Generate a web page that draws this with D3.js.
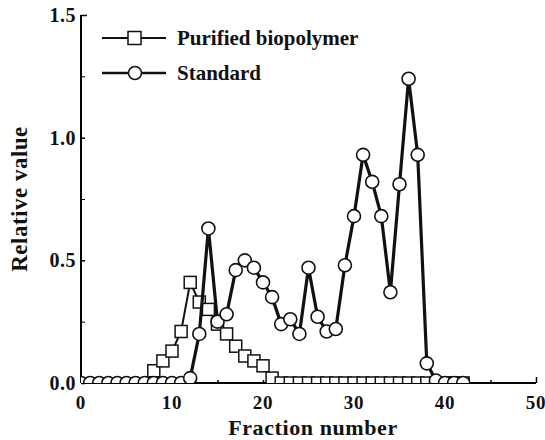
<!DOCTYPE html>
<html>
<head>
<meta charset="utf-8">
<script src="https://cdn.jsdelivr.net/npm/d3@7"></script>
<style>
  body { margin: 0; background: #fff; }
  svg { display: block; }
  text { font-family: "Liberation Serif", "DejaVu Serif", serif; font-weight: bold; fill: #111; }
</style>
</head>
<body>
<svg></svg>
<script>
/**
 * Data.
 */
const fractions = d3.range(0, 43);
const standard = [
    0, 0, 0, 0, 0, 0, 0, 0, 0, 0, 0, 0,
    0.02, 0.20, 0.63, 0.25, 0.28, 0.46, 0.50, 0.47, 0.41, 0.35,
    0.24, 0.26, 0.20, 0.47, 0.27, 0.21, 0.22, 0.48, 0.68, 0.93,
    0.82, 0.68, 0.37, 0.81, 1.24, 0.93, 0.08, 0.01, 0, 0, 0
];
const purified = [
    null, null, null, null, null, null, null, null,
    0.05, 0.09, 0.13, 0.21, 0.41, 0.33, 0.30, 0.24, 0.20, 0.15,
    0.11, 0.09, 0.07, 0.02, 0, 0, 0, 0, 0, 0, 0, 0, 0, 0,
    0, 0, 0, 0, 0, 0, 0, 0, 0, 0, 0
];
const xTicks = [0, 10, 20, 30, 40, 50];
const yTicks = [0, 0.5, 1.0, 1.5];
const seriesNames = ['Purified biopolymer', 'Standard'];

/**
 * Set stuff up.
 */
const width = 545, height = 440;
const svg = d3.select('svg').attr('width', width).attr('height', height);

const x = d3.scaleLinear().domain([0, 50]).range([81, 536]);
const y = d3.scaleLinear().domain([0, 1.5]).range([383, 15]);

svg.append('clipPath').attr('id', 'plot')
    .append('rect')
    .attr('x', x(0)).attr('y', 0)
    .attr('width', x(50) - x(0) + 10).attr('height', y(0));

/**
 * Axes - ticks point inward.
 */
const yAxis = svg.append('g')
    .attr('transform', `translate(${x(0)},0)`)
    .call(d3.axisLeft(y).tickValues(d3.range(0, 1.51, 0.25)).tickSize(-4).tickFormat(''));
yAxis.selectAll('.tick line').attr('stroke-width', d => (d % 0.5 === 0 ? 1.5 : 1))
    .attr('x2', d => (d === 1.5 ? 6 : 4));
yAxis.select('.domain').attr('stroke-width', 2).attr('d', `M0,${y(1.5)}V${y(0)}`);

const xAxis = svg.append('g')
    .attr('transform', `translate(0,${y(0)})`)
    .call(d3.axisBottom(x).tickValues(d3.range(0, 51, 5)).tickSize(-3).tickFormat(''));
xAxis.select('.domain').attr('stroke-width', 2).attr('d', `M${x(0)},0H${x(50)}`);
xAxis.selectAll('.tick line').attr('y2', d => (d === 50 ? -6 : -3)).attr('stroke-width', 1.5);

svg.append('g').selectAll('text')
    .data(yTicks)
    .join('text')
    .attr('x', 76)
    .attr('y', d => y(d) + 7)
    .attr('text-anchor', 'end')
    .attr('font-size', 20)
    .attr('letter-spacing', 0.5)
    .text(d => d.toFixed(1));

svg.append('g').selectAll('text')
    .data(xTicks)
    .join('text')
    .attr('x', d => x(d))
    .attr('y', 409)
    .attr('text-anchor', 'middle')
    .attr('font-size', 19)
    .attr('letter-spacing', 0.8)
    .text(d => d);

svg.append('text')
    .attr('x', 313)
    .attr('y', 435)
    .attr('text-anchor', 'middle')
    .attr('font-size', 22)
    .attr('letter-spacing', 0.6)
    .text('Fraction number');

svg.append('text')
    .attr('transform', 'translate(27,199) rotate(-90)')
    .attr('text-anchor', 'middle')
    .attr('font-size', 23)
    .attr('letter-spacing', 0.5)
    .text('Relative value');

/**
 * Lines and markers.
 */
const plot = svg.append('g').attr('clip-path', 'url(#plot)');
const line = d3.line()
    .defined(d => d[1] !== null)
    .x(d => x(d[0]))
    .y(d => y(d[1]));

const purData = fractions.map((f, i) => [f, purified[i]]);
const stdData = fractions.map((f, i) => [f, standard[i]]);
const sq = 12;

plot.append('path')
    .datum(purData)
    .attr('d', line)
    .attr('fill', 'none')
    .attr('stroke', '#111')
    .attr('stroke-width', 2);

plot.append('g').selectAll('rect')
    .data(purData.filter(d => d[1] !== null))
    .join('rect')
    .attr('x', d => x(d[0]) - sq / 2)
    .attr('y', d => y(d[1]) - sq / 2)
    .attr('width', sq)
    .attr('height', sq)
    .attr('fill', '#fff')
    .attr('stroke', '#111')
    .attr('stroke-width', 1.5);

plot.append('path')
    .datum(stdData)
    .attr('d', line)
    .attr('fill', 'none')
    .attr('stroke', '#111')
    .attr('stroke-width', 3.2)
    .attr('stroke-linejoin', 'round');

plot.append('g').selectAll('circle')
    .data(stdData)
    .join('circle')
    .attr('cx', d => x(d[0]))
    .attr('cy', d => y(d[1]))
    .attr('r', 6.5)
    .attr('fill', '#fff')
    .attr('stroke', '#111')
    .attr('stroke-width', 1.6);

/**
 * Legend.
 */
const legend = svg.append('g');
const rows = [38, 73];
rows.forEach((ry, i) => {
    legend.append('line')
        .attr('x1', 102).attr('x2', 166)
        .attr('y1', ry).attr('y2', ry)
        .attr('stroke', '#111')
        .attr('stroke-width', i === 0 ? 2 : 2.4);
    if (i === 0) {
        legend.append('rect')
            .attr('x', 128).attr('y', ry - 6.5)
            .attr('width', 13).attr('height', 13)
            .attr('fill', '#fff').attr('stroke', '#111').attr('stroke-width', 1.5);
    } else {
        legend.append('circle')
            .attr('cx', 135).attr('cy', ry).attr('r', 6.5)
            .attr('fill', '#fff').attr('stroke', '#111').attr('stroke-width', 1.5);
    }
    legend.append('text')
        .attr('x', 177)
        .attr('y', ry + 7)
        .attr('font-size', 21)
        .text(seriesNames[i]);
});
</script>
</body>
</html>
